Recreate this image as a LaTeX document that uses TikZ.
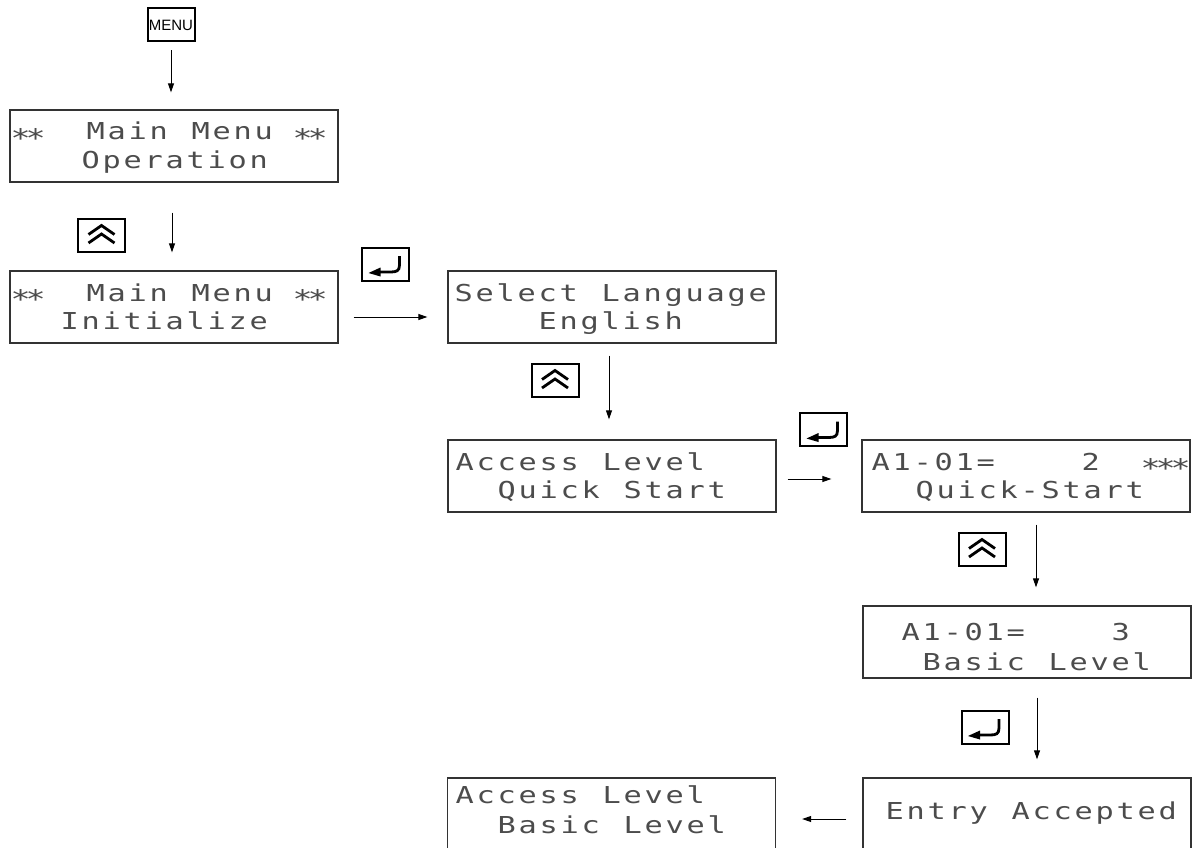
\documentclass[tikz,border=0pt]{standalone}
\usepackage{graphicx}
\usepackage{fontspec}
\setmainfont{Liberation Sans}
\newfontfamily\lcdfont[FakeStretch=1.3]{DejaVu Sans Mono}
\usetikzlibrary{arrows.meta,calc}

\def\lcdend{LCDEND}
\newcommand\lcdput[1]{\ifx*#1\makebox[15pt][c]{\raisebox{-7pt}{\scalebox{1.1}{*}}}\else\makebox[21pt][c]{#1}\fi}
\def\lcd#1{\lcdloop#1\lcdend}
\def\lcdloop#1{\ifx#1\lcdend\else\lcdput{#1}\expandafter\lcdloop\fi}

\tikzset{
  lcdbox/.style={draw=black!80, line width=1.3pt, minimum width=328pt, minimum height=72pt, inner sep=0pt},
  lcdtext/.style={inner sep=0pt, anchor=base west, text=black!70, font={\lcdfont\fontsize{23.3pt}{28pt}\selectfont}},
  btn/.style={draw=black, line width=2pt, fill=white, minimum width=47pt, minimum height=33pt, inner sep=0pt},
  symline/.style={line width=2.8pt, line cap=butt, line join=miter, black},
  arr/.style={-{Triangle[length=9pt,width=6pt]}, line width=1pt, black},
}
\newcommand\upsym[1]{\draw[symline, shift={(#1.center)}] (-13,-1) -- (0,-10) -- (13,-1) (-13,7.5) -- (0,-1.5) -- (13,7.5);}
\newcommand\entsym[1]{%
  \draw[symline, shift={(#1.center)}] (14,-8) -- (14,1) .. controls (14,7) and (11,8) .. (5,8) -- (-6,8);
  \fill[black, shift={(#1.center)}] (-17,9) -- (-5,3.5) -- (-5,12.5) -- cycle;}

\begin{document}
\begin{tikzpicture}[x=1pt,y=-1pt]
\useasboundingbox (0,0) rectangle (1192,848);
\clip (0,0) rectangle (1192,848);

% display boxes
\node[lcdbox] (b1)   at (174,146) {};
\node[lcdbox] (b2)   at (174,307) {};
\node[lcdbox] (sel)  at (612,307) {};
\node[lcdbox] (acc)  at (612,476) {};
\node[lcdbox] (q2)   at (1026,476) {};
\node[lcdbox] (q3)   at (1027,642) {};
\node[lcdbox] (ent)  at (1027,814) {};
\node[lcdbox] (accb) at (611.5,814) {};

% display texts
\node[lcdtext] (b1a) at (13,140) {\lcd{**~~Main~Menu~**}};
\node[lcdtext] (b1b) at (17,168) {\lcd{~~~Operation}};
\node[lcdtext] (b2a) at (13,301) {\lcd{**~~Main~Menu~**}};
\node[lcdtext] (b2b) at (17,329) {\lcd{~~Initialize}};
\node[lcdtext] (sela) at (453,301) {\lcd{Select~Language}};
\node[lcdtext] (selb) at (453,329) {\lcd{~~~~English}};
\node[lcdtext] (acca) at (454,470) {\lcd{Access~Level}};
\node[lcdtext] (accbt) at (454,498) {\lcd{~~Quick~Start}};
\node[lcdtext] (q2a) at (870,470) {\lcd{A1-01=~~~~2~~***}};
\node[lcdtext] (q2b) at (872,498) {\lcd{~~Quick-Start}};
\node[lcdtext] (q3a) at (900,640) {\lcd{A1-01=~~~~3}};
\node[lcdtext] (q3b) at (900,670) {\lcd{~Basic~Level}};
\node[lcdtext] (enta) at (884,819) {\lcd{Entry~Accepted}};
\node[lcdtext] (accba) at (454,803) {\lcd{Access~Level}};
\node[lcdtext] (accbb) at (454,833) {\lcd{~~Basic~Level}};

% buttons
\node[btn, font=\fontsize{15pt}{18pt}\selectfont] (menu) at (171,25) {MENU};
\node[btn] (up1)  at (101.5,235.5) {};
\node[btn] (ent1) at (385.5,264) {};
\node[btn] (up2)  at (555,380.5) {};
\node[btn] (ent2) at (823.5,429.5) {};
\node[btn] (up3)  at (982,549.5) {};
\node[btn] (ent3) at (985,727) {};
\upsym{up1}
\upsym{up2}
\upsym{up3}
\entsym{ent1}
\entsym{ent2}
\entsym{ent3}

% connectors
\draw[arr, shorten <=8pt, shorten >=17pt] (menu.south) -- (menu.south |- b1.north);
\draw[arr, shorten <=30pt, shorten >=18pt] ([xshift=-2pt]b1.south) -- ([xshift=-2pt]b2.north);
\draw[arr, shorten <=15pt, shorten >=20pt] ([yshift=-10pt]b2.east) -- ([yshift=-10pt]sel.west);
\draw[arr, shorten <=12pt, shorten >=20pt] ([xshift=-3pt]sel.south) -- ([xshift=-3pt]acc.north);
\draw[arr, shorten <=11pt, shorten >=30pt] ([yshift=-3pt]acc.east) -- ([yshift=-3pt]q2.west);
\draw[arr, shorten <=12pt, shorten >=18pt] ([xshift=10pt]q2.south) -- ([xshift=9pt]q3.north);
\draw[arr, shorten <=19pt, shorten >=18pt] ([xshift=10pt]q3.south) -- ([xshift=10pt]ent.north);
\draw[arr, shorten <=16pt, shorten >=26pt] ([yshift=-5pt]ent.west) -- ([yshift=-5pt]accb.east);
\end{tikzpicture}
\end{document}
